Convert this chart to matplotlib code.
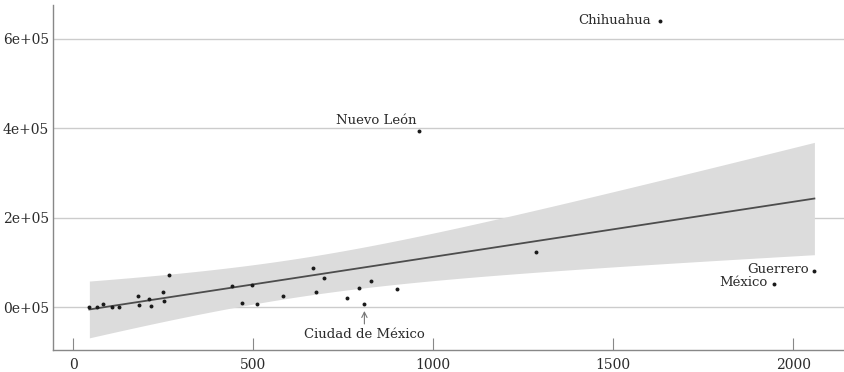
import matplotlib
matplotlib.use("Agg")
import matplotlib.pyplot as plt
import numpy as np

plt.rcParams['font.family'] = ['DejaVu Serif']

# one point per state: x value and y value
x_vals = [45, 66, 84, 109, 126, 179, 183, 212, 216, 249, 253, 265,
          442, 469, 498, 511, 582, 667, 675, 697, 760, 793, 809, 828,
          899, 961, 1287, 1631, 2059, 1948]
y_vals = [0, 0, 6000, 0, 0, 23900, 3800, 17200, 2200, 33500, 12700, 70800,
          47600, 9600, 49800, 6000, 23900, 87800, 34200, 64800, 19400, 42500, 6700, 57400,
          40200, 394000, 122900, 639800, 81100, 51400]
names = [""] * 22 + ["Ciudad de México"] + [""] * 2 + ["Nuevo León", "", "Chihuahua", "Guerrero", "México"]

x_ticks = [0, 500, 1000, 1500, 2000]
y_ticks = [0, 200000, 400000, 600000]
y_tick_labels = ["0e+05", "2e+05", "4e+05", "6e+05"]

x = np.array(x_vals, dtype=float)
y = np.array(y_vals, dtype=float)

# ordinary least squares with 95% confidence band
n = len(x)
X = np.column_stack([np.ones(n), x])
beta, *_ = np.linalg.lstsq(X, y, rcond=None)
resid = y - X @ beta
s = np.sqrt(resid @ resid / (n - 2))
xbar = x.mean()
sxx = ((x - xbar) ** 2).sum()
xs = np.linspace(x.min(), x.max(), 200)
fit = beta[0] + beta[1] * xs
se = s * np.sqrt(1.0 / n + (xs - xbar) ** 2 / sxx)
tcrit = 2.045
lo, hi = fit - tcrit * se, fit + tcrit * se

fig = plt.figure(figsize=(8.45, 3.72), dpi=100)
ax = fig.add_axes([53 / 845, 22 / 372, 1 - 53 / 845, 345 / 372])

ax.fill_between(xs, lo, hi, color="#dcdcdc", lw=0, zorder=1)
ax.plot(xs, fit, color="#4d4d4d", lw=1.3, zorder=2)
ax.scatter(x, y, s=8, color="#1a1a1a", zorder=3, linewidths=0)

# label offsets in points, to the left of each point
offsets = {"Chihuahua": (-7, 0), "Guerrero": (-4, 1), "México": (-5, 1)}
txt = "#2b2b2b"
for xi, yi, nm in zip(x, y, names):
    if nm == "Nuevo León":
        ax.annotate(nm, (xi, yi), xytext=(-2, 3), textcoords="offset points",
                    ha="right", va="bottom", fontsize=9.5, color=txt)
    elif nm == "Ciudad de México":
        ax.annotate(nm, (xi, yi), xytext=(0, -22), textcoords="offset points",
                    ha="center", va="center", fontsize=9.5, color=txt,
                    arrowprops=dict(arrowstyle="->", color="#777777", lw=0.8,
                                    shrinkA=1, shrinkB=5))
    elif nm:
        ax.annotate(nm, (xi, yi), xytext=offsets[nm], textcoords="offset points",
                    ha="right", va="center", fontsize=9.5, color=txt)

ax.set_xlim(-56, 2144)
ax.set_ylim(-96000, 675000)
ax.set_xticks(x_ticks)
ax.set_yticks(y_ticks, labels=y_tick_labels)
ax.grid(axis="y", color="#cccccc", lw=1)
ax.set_axisbelow(True)

for side in ("top", "right"):
    ax.spines[side].set_visible(False)
for side in ("left", "bottom"):
    ax.spines[side].set_color("#888888")
    ax.spines[side].set_linewidth(1)

ax.tick_params(axis="x", direction="in", length=9, color="#888888", labelsize=10,
               labelcolor=txt, pad=6)
ax.tick_params(axis="y", length=0, labelsize=10, labelcolor=txt, pad=3)

fig.savefig("out.png", dpi=100)
